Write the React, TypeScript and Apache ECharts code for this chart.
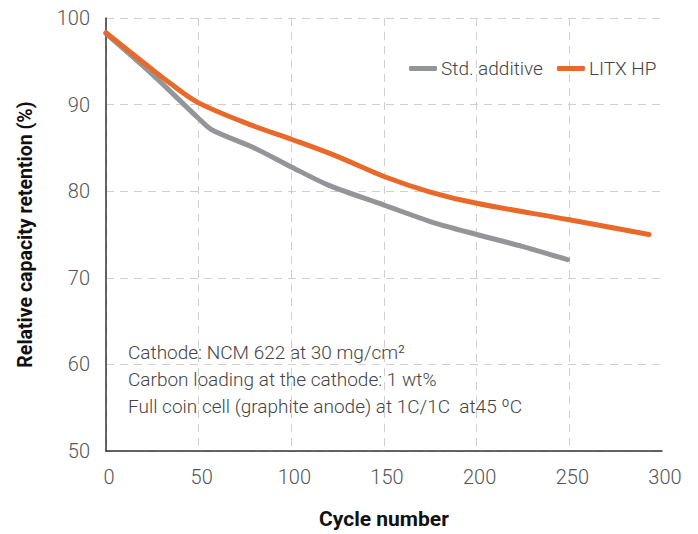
import React, { useEffect, useRef } from "react";
import * as echarts from "echarts";

const seriesNames = ["Std. additive", "LITX HP"];
const stdAdditive: [number, number][] = [
  [0, 98.2], [25, 93.5], [50, 88.4], [57, 87.1], [80, 85.0], [100, 82.8],
  [120, 80.7], [150, 78.4], [175, 76.5], [200, 75.0], [225, 73.6], [249, 72.1],
];
const litxHP: [number, number][] = [
  [0, 98.3], [20, 94.9], [35, 92.4], [50, 90.2], [80, 87.5], [100, 86.0],
  [125, 84.0], [150, 81.7], [175, 79.9], [200, 78.6], [250, 76.7], [293, 75.0],
];
const notes = [
  "Cathode: NCM 622 at 30 mg/cm²",
  "Carbon loading at the cathode: 1 wt%",
  "Full coin cell (graphite anode) at 1C/1C  at45 ºC",
];
const colors = ["#939598", "#E8692A"];

export default function App() {
  const ref = useRef<HTMLDivElement>(null);
  useEffect(() => {
    if (!ref.current) return;
    const chart = echarts.init(ref.current, undefined, { renderer: "svg" });
    const font = "Roboto";
    chart.setOption({
      animation: false,
      grid: { left: 106, top: 18, right: 36, bottom: 82, containLabel: false },
      legend: {
        left: 404,
        top: 54,
        icon: "roundRect",
        itemWidth: 28,
        itemHeight: 5,
        itemGap: 14,
        textStyle: { fontFamily: font, fontSize: 19, fontWeight: 300, color: "#444", padding: [0, 0, 0, -1] },
        data: seriesNames,
      },
      xAxis: {
        type: "value",
        min: 0,
        max: 300,
        interval: 50,
        name: "Cycle number",
        nameLocation: "middle",
        nameGap: 57,
        nameTextStyle: { fontFamily: font, fontSize: 21, fontWeight: "bold", color: "#111" },
        axisLine: { show: true, lineStyle: { color: "#333", width: 1.5 } },
        axisTick: { show: false },
        axisLabel: { fontFamily: font, fontSize: 20, fontWeight: 300, color: "#555", margin: 16, padding: [0, 0, 0, 6] },
        splitLine: { show: true, showMaxLine: false, lineStyle: { color: "#d0d0d0", type: [8, 6], width: 1 } },
      },
      yAxis: {
        type: "value",
        min: 50,
        max: 100,
        interval: 10,
        name: "Relative capacity retention (%)",
        nameLocation: "middle",
        nameGap: 71,
        nameTextStyle: { fontFamily: font, fontSize: 19.5, fontWeight: "bold", color: "#111" },
        axisLine: { show: true, lineStyle: { color: "#333", width: 1.5 } },
        axisTick: { show: false },
        axisLabel: { fontFamily: font, fontSize: 20, fontWeight: 300, color: "#555", margin: 16 },
        splitLine: { show: true, lineStyle: { color: "#d0d0d0", type: [8, 6], width: 1 } },
      },
      graphic: notes.map((t, i) => ({
        type: "text",
        left: 128,
        top: 343 + i * 27,
        style: { text: t, fontFamily: font, fontSize: 19, fontWeight: 300, fill: "#444" },
      })),
      series: [
        {
          name: seriesNames[0],
          type: "line",
          data: stdAdditive,
          smooth: 0.3,
          symbol: "none",
          lineStyle: { color: colors[0], width: 5, cap: "round" },
          itemStyle: { color: colors[0] },
        },
        {
          name: seriesNames[1],
          type: "line",
          data: litxHP,
          smooth: 0.35,
          symbol: "none",
          lineStyle: { color: colors[1], width: 5, cap: "round" },
          itemStyle: { color: colors[1] },
        },
      ],
    });
    return () => chart.dispose();
  }, []);
  return (
    <div
      ref={ref}
      style={{ position: "absolute", left: 0, top: 0, width: 698, height: 534, background: "#fff" }}
    />
  );
}
